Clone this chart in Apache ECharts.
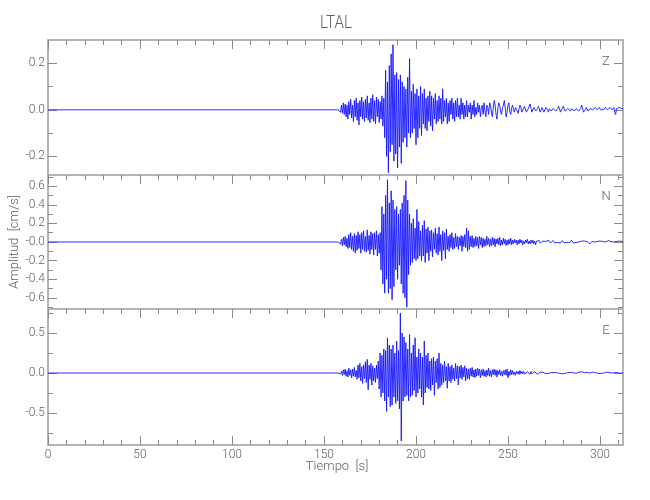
<!DOCTYPE html>
<html><head><meta charset="utf-8">
<script src="https://cdn.jsdelivr.net/npm/echarts@6/dist/echarts.min.js"></script>
<style>html,body{margin:0;padding:0;background:#fff}#c{width:650px;height:500px}</style>
</head><body><div id="c"></div>
<script>
const stationName = 'LTAL';
const componentNames = ['Z', 'N', 'E'];
const xAxisTitle = 'Tiempo  [s]';
const yAxisTitle = 'Amplitud  [cm/s]';

// flat pre-event trace, then samples every 0.5 s from 158 s
const quietTimes = [0, 157.5];
const sampleStart = 158;
const sampleStep = 0.5;

const zValues = [
 0, 0.005, -0.01, 0.02, -0.015, 0.03, -0.02, 0.025, -0.03, 0.02,
 -0.04, 0.035, -0.02, 0.045, -0.035, 0.02, -0.05, 0.04, -0.03, 0.05,
 -0.045, 0.03, -0.065, 0.04, -0.03, 0.055, -0.04, 0.035, -0.05, 0.045,
 -0.035, 0.06, -0.045, 0.03, -0.055, 0.05, -0.04, 0.065, -0.05, 0.04,
 -0.06, 0.055, -0.03, 0.045, -0.055, 0.035, -0.04, 0.06, -0.07, 0.05,
 -0.12, 0.17, -0.2, 0.12, -0.27, 0.19, -0.18, 0.24, -0.15, 0.28,
 -0.22, 0.15, -0.19, 0.16, -0.25, 0.13, -0.16, 0.15, -0.23, 0.12,
 -0.14, 0.1, -0.12, 0.09, -0.16, 0.14, -0.1, 0.22, -0.12, 0.08,
 -0.1, 0.11, -0.08, 0.07, -0.15, 0.09, -0.12, 0.06, -0.08, 0.1,
 -0.11, 0.07, -0.06, 0.09, -0.08, 0.05, -0.09, 0.06, -0.05, 0.08,
 -0.07, 0.06, -0.09, 0.05, -0.04, 0.07, -0.06, 0.04, -0.05, 0.06,
 -0.04, 0.05, -0.06, 0.09, -0.05, 0.04, -0.03, 0.05, -0.06, 0.03,
 -0.05, 0.04, -0.02, 0.05, -0.04, 0.03, -0.05, 0.04, -0.03, 0.05,
 -0.03, 0.02, -0.04, 0.05, -0.02, 0.03, -0.04, 0.02, -0.03, 0.04,
 -0.03, 0.02, -0.01, 0.03, -0.04, 0.02, -0.02, 0.04, -0.03, 0.01,
 -0.02, 0.03, -0.01, 0.02, -0.03, 0.01, 0.02, -0.02, 0.03, -0.01,
 -0.03, 0.02, 0.01, -0.02, 0.03, 0.02, -0.01, -0.03, 0.01, 0.04,
 0.02, -0.02, -0.04, 0.01, 0.03, 0.02, -0.01, -0.02, 0.01, 0.02,
 0.04, 0.01, -0.03, -0.01, 0.02, 0.03, -0.01, -0.02, 0.01, 0.02,
 0, -0.01, 0.01, 0.015, -0.005, -0.015, 0.005, 0.02, 0.01, -0.01,
 -0.015, 0.005, 0.015, 0.01, -0.01, -0.01, 0.005, 0.01, 0.025, 0.005,
 -0.01, -0.005, 0.01, 0.005, -0.005, -0.01, 0.005, 0.015, 0.005, -0.01,
 -0.005, 0.01, 0.005, -0.01, 0, 0.01, 0.015, 0, -0.01, 0.005,
 0.01, -0.005, -0.01, 0.005, 0.01, 0.005, -0.005, -0.01, 0.005, 0.015,
 0.005, -0.01, -0.015, 0.005, 0.015, 0.01, -0.005, -0.01, 0, 0.005,
 0.01, 0, -0.005, 0.005, 0.01, 0.005, -0.005, -0.005, 0.005, 0.01,
 0.005, -0.005, -0.01, 0.005, 0.02, 0.01, -0.01, -0.015, 0, 0.01,
 0.005, -0.005, 0, 0.005, 0.01, 0.005, 0, -0.005, 0.005, 0.01,
 0.005, 0, 0.005, 0.01, 0.005, 0, 0.005, 0.005, 0, 0.005,
 0.01, 0.005, 0, -0.005, 0.005, 0.01, 0.005, 0, 0.005, 0.01,
 -0.01, -0.02, 0.005, 0.01, 0.005, 0.01, 0.005, 0.01, 0.005, 0.005
];

const nValues = [
 0, 0.01, -0.02, 0.03, -0.04, 0.05, -0.03, 0.06, -0.05, 0.04,
 -0.07, 0.08, -0.06, 0.1, -0.08, 0.06, -0.1, 0.09, -0.12, 0.07,
 -0.09, 0.11, -0.07, 0.08, -0.12, 0.1, -0.08, 0.12, -0.1, 0.06,
 -0.11, 0.13, -0.09, 0.07, -0.13, 0.11, -0.08, 0.09, -0.14, 0.1,
 -0.08, 0.12, -0.15, 0.08, -0.12, 0.1, -0.3, 0.38, -0.45, 0.3,
 -0.55, 0.5, -0.4, 0.67, -0.55, 0.42, -0.5, 0.55, -0.62, 0.45,
 -0.48, 0.35, -0.3, 0.38, -0.4, 0.3, -0.25, 0.35, -0.45, 0.42,
 -0.55, 0.5, -0.6, 0.66, -0.7, 0.45, -0.35, 0.3, -0.25, 0.2,
 -0.22, 0.25, -0.18, 0.15, -0.2, 0.35, -0.18, 0.22, -0.15, 0.12,
 -0.2, 0.18, -0.15, 0.23, -0.22, 0.14, -0.12, 0.16, -0.2, 0.12,
 -0.1, 0.13, -0.16, 0.1, -0.08, 0.15, -0.12, 0.09, -0.14, 0.16,
 -0.1, 0.08, -0.2, 0.12, -0.09, 0.1, -0.18, 0.14, -0.08, 0.06,
 -0.1, 0.08, -0.06, 0.1, -0.08, 0.05, -0.07, 0.09, -0.05, 0.06,
 -0.08, 0.05, -0.04, 0.07, -0.1, 0.06, -0.05, 0.08, -0.06, 0.15,
 -0.1, 0.12, -0.08, 0.06, -0.05, 0.07, -0.06, 0.04, -0.05, 0.06,
 -0.04, 0.05, -0.07, 0.06, -0.03, 0.05, -0.06, 0.04, -0.05, 0.03,
 -0.04, 0.06, -0.03, 0.04, -0.05, 0.03, -0.04, 0.05, -0.03, 0.04,
 -0.05, 0.03, -0.02, 0.04, -0.03, 0.05, -0.04, 0.02, -0.03, 0.04,
 -0.02, 0.03, -0.04, 0.02, -0.03, 0.03, -0.02, 0.04, -0.03, 0.02,
 -0.02, 0.03, -0.01, 0.02, -0.03, 0.02, -0.02, 0.03, -0.01, 0.02,
 -0.03, 0.01, -0.02, 0.02, -0.01, 0.03, -0.02, 0.01, -0.02, 0.02,
 -0.01, 0.02, -0.02, 0.01, -0.03, 0.01, 0.02, -0.01, 0.015, -0.01,
 0.01, -0.02, 0.01, 0.015, -0.01, 0.005, -0.015, 0.01, 0.02, 0,
 -0.01, 0.01, -0.005, 0.015, 0.005, -0.01, 0.005, 0.01, -0.005, 0.005,
 0.01, -0.01, 0.005, 0.015, 0, -0.01, 0.01, 0.005, -0.005, 0.01,
 0.005, -0.005, 0.01, 0.02, 0.005, -0.01, 0.005, 0.01, -0.005, 0.005,
 0.01, 0, -0.005, 0.005, 0.01, -0.005, 0.005, 0.01, 0, -0.005,
 0.005, 0.01, 0.005, -0.02, -0.01, 0.005, 0.01, 0.005, 0, 0.005,
 0.01, 0.005, 0, 0.005, 0.01, 0.005, -0.005, 0.005, 0.01, 0.005,
 0, 0.005, 0.01, 0.015, 0.005, -0.005, 0.005, 0.01, 0.005, 0,
 0.005, 0.01, 0.005, 0, 0.005, 0.01, 0.005, 0, 0.005, 0.005
];

const eValues = [
 0, 0.01, -0.01, 0.02, -0.03, 0.04, -0.02, 0.05, -0.04, 0.03,
 -0.05, 0.06, -0.03, 0.04, -0.06, 0.05, -0.04, 0.07, -0.05, 0.03,
 -0.08, 0.1, -0.06, 0.12, -0.1, 0.08, -0.13, 0.1, -0.07, 0.14,
 -0.12, 0.17, -0.21, 0.1, -0.08, 0.12, -0.15, 0.09, -0.1, 0.06,
 -0.12, 0.1, -0.07, 0.15, -0.2, 0.25, -0.3, 0.22, -0.25, 0.3,
 -0.35, 0.28, -0.48, 0.44, -0.3, 0.35, -0.42, 0.3, -0.4, 0.35,
 -0.3, 0.25, -0.38, 0.4, -0.35, 0.28, -0.45, 0.75, -0.85, 0.5,
 -0.35, 0.45, -0.3, 0.38, -0.28, 0.3, -0.35, 0.48, -0.3, 0.25,
 -0.28, 0.35, -0.22, 0.44, -0.3, 0.2, -0.25, 0.3, -0.2, 0.25,
 -0.3, 0.2, -0.4, 0.4, -0.25, 0.22, -0.18, 0.25, -0.2, 0.15,
 -0.22, 0.18, -0.15, 0.2, -0.28, 0.15, -0.12, 0.18, -0.2, 0.25,
 -0.18, 0.12, -0.15, 0.1, -0.12, 0.15, -0.1, 0.08, -0.19, 0.12,
 -0.1, 0.08, -0.12, 0.1, -0.08, 0.06, -0.1, 0.12, -0.07, 0.09,
 -0.15, 0.08, -0.06, 0.1, -0.08, 0.07, -0.05, 0.09, -0.1, 0.06,
 -0.07, 0.05, -0.08, 0.06, -0.04, 0.07, -0.05, 0.04, -0.06, 0.05,
 -0.04, 0.06, -0.03, 0.05, -0.06, 0.04, -0.03, 0.05, -0.04, 0.03,
 -0.05, 0.04, -0.03, 0.06, -0.04, 0.03, -0.05, 0.04, -0.02, 0.05,
 -0.03, 0.04, -0.05, 0.03, -0.02, 0.04, -0.03, 0.02, -0.04, 0.03,
 -0.02, 0.04, -0.03, 0.05, -0.06, 0.02, -0.03, 0.04, -0.02, 0.03,
 -0.02, 0.01, -0.03, 0.02, -0.01, 0.02, -0.02, 0.03, -0.01, 0.02,
 -0.01, 0.02, -0.015, 0.01, -0.02, 0.015, -0.01, 0.01, -0.015, 0.02,
 -0.01, 0.005, -0.01, 0.015, -0.005, 0.01, -0.015, 0.01, -0.005, 0.01,
 -0.01, 0.005, 0.01, -0.005, 0.01, -0.01, 0.005, 0.015, -0.005, 0.005,
 -0.01, 0.005, 0.01, -0.005, 0.005, -0.01, 0.01, 0.005, -0.005, 0.01,
 -0.005, 0.01, 0, -0.01, 0.005, 0.01, -0.005, 0.005, -0.01, 0.005,
 0.01, -0.005, 0.005, 0.01, -0.01, 0.005, 0, 0.01, -0.005, 0.005,
 -0.005, 0.01, 0.005, -0.005, 0.015, 0, -0.01, 0.005, 0.005, -0.005,
 0.005, 0.01, -0.005, 0, 0.005, -0.005, 0.01, 0.005, -0.005, 0.005,
 0, 0.005, -0.005, 0.01, 0.005, -0.005, 0.005, 0.01, 0, -0.005,
 0.005, 0.01, 0.005, -0.005, 0.005, 0.01, 0.015, 0, -0.005, 0.005,
 0.005, -0.005, 0.01, 0.005, 0, 0.005, -0.005, 0.005, 0.01, 0.005
];

// axes
const timeRange = [0, 312.5];
const xMajorTicks = [0, 50, 100, 150, 200, 250, 300];
const xMinorTicks = [10, 20, 30, 40, 60, 70, 80, 90, 110, 120, 130, 140, 160, 170, 180, 190,
  210, 220, 230, 240, 260, 270, 280, 290, 310];

const zRange = [-0.28, 0.30];
const zMajorTicks = [-0.2, 0, 0.2];
const zMajorLabels = ['-0.2', '0.0', '0.2'];
const zMinorTicks = [-0.1, 0.1];

const nRange = [-0.72, 0.72];
const nMajorTicks = [-0.6, -0.4, -0.2, 0, 0.2, 0.4, 0.6];
const nMajorLabels = ['-0.6', '-0.4', '-0.2', '-0.0', '0.2', '0.4', '0.6'];
const nMinorTicks = [-0.7, -0.5, -0.3, -0.1, 0.1, 0.3, 0.5, 0.7];

const eRange = [-0.90, 0.80];
const eMajorTicks = [-0.5, 0, 0.5];
const eMajorLabels = ['-0.5', '0.0', '0.5'];
const eMinorTicks = [-0.75, -0.25, 0.25, 0.75];

// ---------- build ----------
const FONT = "Roboto,'Liberation Sans Narrow','DejaVu Sans Condensed',sans-serif";
const TXT = '#5e5e5e';
const FRAME = '#b4b4b4';
const TICK = '#8a8a8a';
const LINE = '#1414ff';

const panels = [
  {vals: zValues, range: zRange, maj: zMajorTicks, lab: zMajorLabels, min: zMinorTicks, top: 40, height: 135},
  {vals: nValues, range: nRange, maj: nMajorTicks, lab: nMajorLabels, min: nMinorTicks, top: 175, height: 134},
  {vals: eValues, range: eRange, maj: eMajorTicks, lab: eMajorLabels, min: eMinorTicks, top: 309, height: 136}
];

const grids = [], xAxes = [], yAxes = [], series = [], graphics = [];
panels.forEach((p, i) => {
  grids.push({left: 48, right: 27, top: p.top, height: p.height, containLabel: false});
  const isLast = i === panels.length - 1;
  const xBase = {gridIndex: i, type: 'value', min: timeRange[0], max: timeRange[1],
    splitLine: {show: false}};
  xAxes.push(Object.assign({}, xBase, {position: 'bottom',
    axisLine: {show: true, onZero: false, lineStyle: {color: FRAME, width: 2}},
    axisTick: {show: isLast, inside: true, length: 9, customValues: xMajorTicks, lineStyle: {color: TICK}},
    axisLabel: {show: isLast, customValues: xMajorTicks, color: TXT, fontFamily: FONT, fontWeight: 300,
      fontSize: 12, margin: 4}}));
  const primaryX = xAxes.length - 1;
  if (isLast) {
    xAxes.push(Object.assign({}, xBase, {position: 'bottom', axisLine: {show: false, onZero: false},
      axisTick: {show: true, inside: true, length: 5, customValues: xMinorTicks, lineStyle: {color: TICK}},
      axisLabel: {show: false}}));
  }
  xAxes.push(Object.assign({}, xBase, {position: 'top',
    axisLine: {show: true, onZero: false, lineStyle: {color: FRAME, width: 2}},
    axisTick: {show: true, inside: true, length: 9, customValues: xMajorTicks, lineStyle: {color: TICK}},
    axisLabel: {show: false}}));
  xAxes.push(Object.assign({}, xBase, {position: 'top', axisLine: {show: false, onZero: false},
    axisTick: {show: true, inside: true, length: 5, customValues: xMinorTicks, lineStyle: {color: TICK}},
    axisLabel: {show: false}}));

  const yBase = {gridIndex: i, type: 'value', min: p.range[0], max: p.range[1], splitLine: {show: false}};
  yAxes.push(Object.assign({}, yBase, {position: 'left',
    axisLine: {show: true, onZero: false, lineStyle: {color: FRAME, width: 2}},
    axisTick: {show: true, inside: true, length: 9, customValues: p.maj, lineStyle: {color: TICK}},
    axisLabel: {show: true, customValues: p.maj, color: TXT, fontFamily: FONT, fontWeight: 300,
      fontSize: 12, margin: 3,
      formatter: v => { const k = p.maj.findIndex(t => Math.abs(t - v) < 1e-9); return k >= 0 ? p.lab[k] : ''; }}}));
  const primaryY = yAxes.length - 1;
  yAxes.push(Object.assign({}, yBase, {position: 'left', axisLine: {show: false, onZero: false},
    axisTick: {show: true, inside: true, length: 5, customValues: p.min, lineStyle: {color: TICK}},
    axisLabel: {show: false}}));
  yAxes.push(Object.assign({}, yBase, {position: 'right',
    axisLine: {show: true, onZero: false, lineStyle: {color: FRAME, width: 2}},
    axisTick: {show: true, inside: true, length: 9, customValues: p.maj, lineStyle: {color: TICK}},
    axisLabel: {show: false}}));
  yAxes.push(Object.assign({}, yBase, {position: 'right', axisLine: {show: false, onZero: false},
    axisTick: {show: true, inside: true, length: 5, customValues: p.min, lineStyle: {color: TICK}},
    axisLabel: {show: false}}));

  const data = quietTimes.map(t => [t, 0]).concat(p.vals.map((v, k) => [sampleStart + k * sampleStep, v]));
  series.push({type: 'line', name: componentNames[i], xAxisIndex: primaryX, yAxisIndex: primaryY,
    data: data, showSymbol: false, symbol: 'none', silent: true, clip: true,
    lineStyle: {color: LINE, width: 0.9}});

  graphics.push({type: 'text', x: 606, y: p.top + 22,
    style: {text: componentNames[i], fill: TXT, font: '300 13px ' + FONT, textAlign: 'center', textVerticalAlign: 'middle'}});
});

graphics.push({type: 'text', x: 336, y: 23, scaleX: 0.8,
  style: {text: stationName, fill: TXT, font: '300 19px ' + FONT, textAlign: 'center', textVerticalAlign: 'middle'}});
graphics.push({type: 'text', x: 337, y: 467,
  style: {text: xAxisTitle, fill: TXT, font: '300 13px ' + FONT, textAlign: 'center', textVerticalAlign: 'middle'}});
graphics.push({type: 'text', x: 15, y: 242, rotation: Math.PI / 2,
  style: {text: yAxisTitle, fill: TXT, font: '300 13px ' + FONT, textAlign: 'center', textVerticalAlign: 'middle'}});

const chart = echarts.init(document.getElementById('c'), null, {renderer: 'canvas'});
chart.setOption({
  animation: false,
  backgroundColor: '#ffffff',
  grid: grids, xAxis: xAxes, yAxis: yAxes, series: series, graphic: graphics
});
</script></body></html>
